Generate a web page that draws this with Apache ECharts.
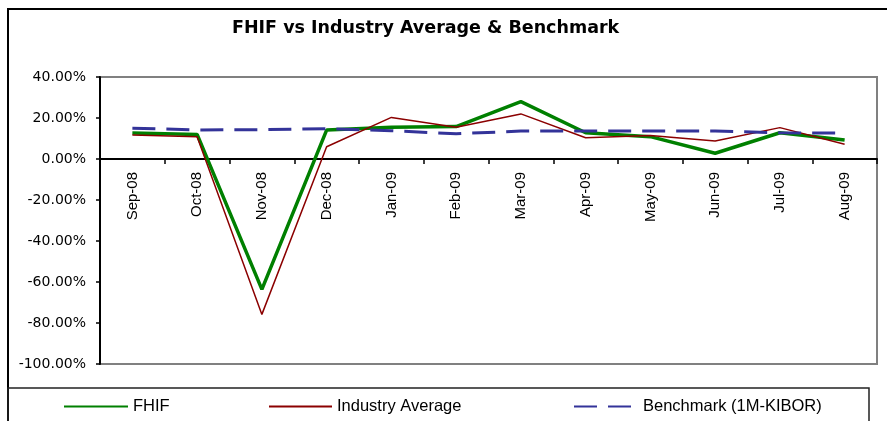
<!DOCTYPE html>
<html>
<head>
<meta charset="utf-8">
<script src="https://cdn.jsdelivr.net/npm/echarts@6/dist/echarts.min.js"></script>
<style>
  html, body { margin: 0; padding: 0; background: #fff; }
  #chart { width: 887px; height: 421px; }
</style>
</head>
<body>
<div id="chart"></div>
<script>
var months = ['Sep-08', 'Oct-08', 'Nov-08', 'Dec-08', 'Jan-09', 'Feb-09',
              'Mar-09', 'Apr-09', 'May-09', 'Jun-09', 'Jul-09', 'Aug-09'];
var fhif = [12.7, 12.0, -63.6, 14.1, 15.5, 15.8, 28.0, 12.8, 10.9, 2.8, 12.8, 9.3];
var industry_avg = [11.7, 10.9, -75.8, 6.0, 20.3, 15.5, 22.0, 10.4, 11.5, 8.8, 15.3, 7.2];
var benchmark = [15.0, 14.2, 14.3, 14.8, 13.8, 12.3, 13.6, 13.6, 13.6, 13.6, 12.8, 12.6];

var chart = echarts.init(document.getElementById('chart'));

var legend_text = {
    color: '#000',
    fontFamily: 'Liberation Sans, Arial, sans-serif',
    fontSize: 16.5
};
// hide the marker circle ECharts puts on line legend icons
var legend_marker = {opacity: 0};

chart.setOption({
    animation: false,
    backgroundColor: '#fff',
    title: {
        text: 'FHIF vs Industry Average & Benchmark',
        left: 232,
        top: 19,
        padding: 0,
        textStyle: {
            color: '#000',
            fontFamily: 'DejaVu Sans, sans-serif',
            fontWeight: 'bold',
            fontSize: 17.5
        }
    },
    graphic: [
        {   // outer chart frame
            type: 'rect',
            shape: {x: 8, y: 9, width: 900, height: 440},
            style: {fill: 'none', stroke: '#000', lineWidth: 2},
            silent: true
        },
        {   // legend box
            type: 'rect',
            shape: {x: 8, y: 388, width: 861, height: 60},
            style: {fill: 'none', stroke: '#222', lineWidth: 1.5},
            silent: true
        }
    ],
    legend: [
        {data: ['FHIF'], left: 63, top: 398, padding: 0, itemWidth: 64, itemHeight: 14, itemStyle: legend_marker, textStyle: legend_text},
        {data: ['Industry Average'], left: 268, top: 398, padding: 0, itemWidth: 63, itemHeight: 14, itemStyle: legend_marker, textStyle: legend_text},
        {data: ['Benchmark (1M-KIBOR)'], left: 573, top: 398, padding: 0, itemWidth: 64, itemHeight: 14, itemStyle: legend_marker, textStyle: legend_text}
    ],
    grid: {
        left: 100,
        right: 10,
        top: 77,
        bottom: 57,
        show: true,
        borderColor: '#808080',
        borderWidth: 2
    },
    xAxis: {
        type: 'category',
        data: months,
        boundaryGap: true,
        position: 'bottom',
        // axis sits on the 0% line: grid bottom (-100%) moved up by 100/140 of the plot height
        offset: -205,
        axisLine: {show: true, onZero: false, lineStyle: {color: '#000', width: 2}},
        axisTick: {show: true, length: 5, interval: 0, lineStyle: {color: '#000', width: 1.5}},
        axisLabel: {
            rotate: 90,
            interval: 0,
            margin: 13,
            color: '#000',
            fontFamily: 'Liberation Sans, Arial, sans-serif',
            fontSize: 15
        },
        splitLine: {show: false}
    },
    yAxis: {
        type: 'value',
        min: -100,
        max: 40,
        interval: 20,
        axisLine: {show: true, lineStyle: {color: '#000', width: 2}},
        axisTick: {show: true, length: 4, lineStyle: {color: '#000', width: 1.5}},
        axisLabel: {
            margin: 14,
            color: '#000',
            fontFamily: 'DejaVu Sans, sans-serif',
            fontSize: 14,
            formatter: function (v) { return v.toFixed(2) + '%'; }
        },
        splitLine: {show: false}
    },
    series: [
        {
            name: 'FHIF',
            type: 'line',
            data: fhif,
            symbol: 'none',
            lineStyle: {color: '#008000', width: 3.5},
            itemStyle: {color: '#008000'}
        },
        {
            name: 'Industry Average',
            type: 'line',
            data: industry_avg,
            symbol: 'none',
            lineStyle: {color: '#8B0000', width: 1.5},
            itemStyle: {color: '#8B0000'}
        },
        {
            name: 'Benchmark (1M-KIBOR)',
            type: 'line',
            data: benchmark,
            symbol: 'none',
            lineStyle: {color: '#333399', width: 3, type: [23, 11]},
            itemStyle: {color: '#333399'}
        }
    ]
});

window.addEventListener('resize', function () {
    chart.resize();
});
</script>
</body>
</html>
